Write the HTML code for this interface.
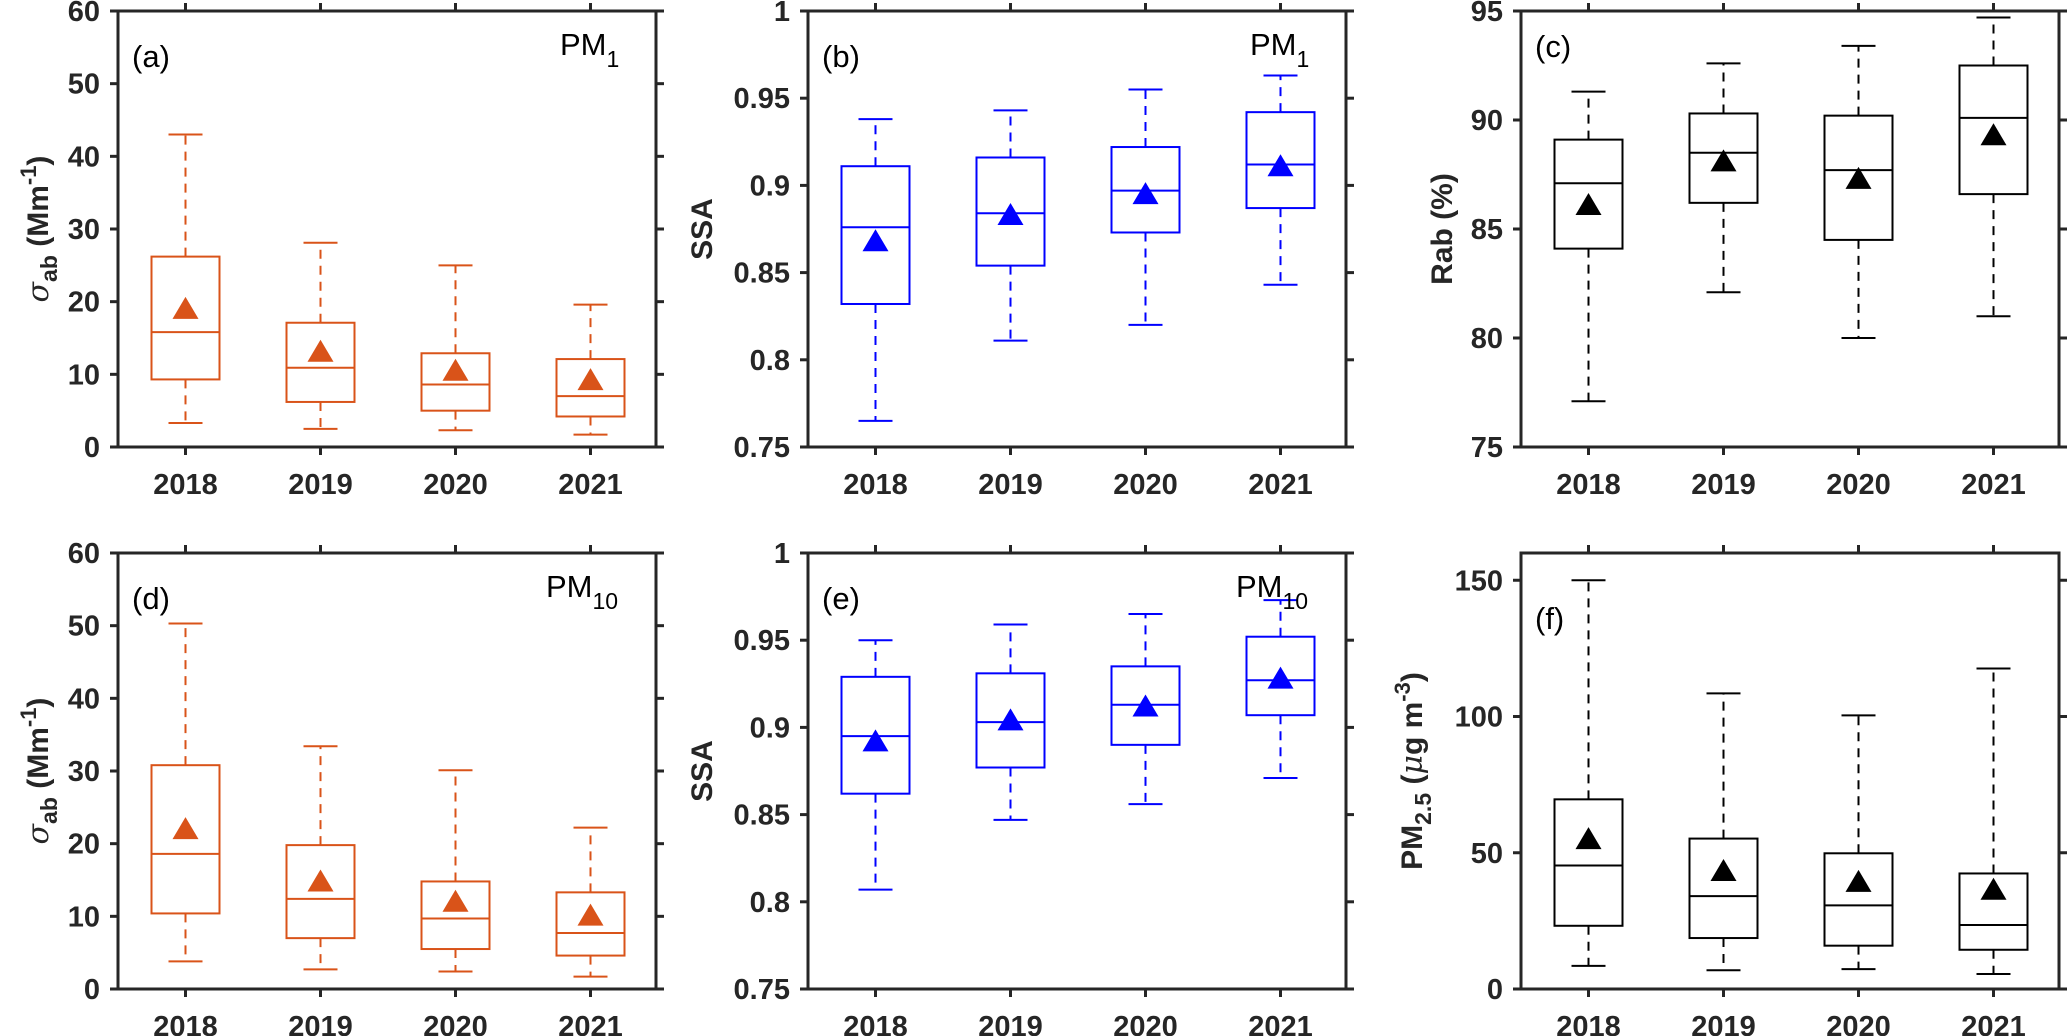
<!DOCTYPE html>
<html><head><meta charset="utf-8"><style>
html,body{margin:0;padding:0;background:#fff;}
svg{display:block;font-family:"Liberation Sans",Arial,sans-serif;}
</style></head><body>
<svg id="fig" width="2067" height="1036" viewBox="0 0 2067 1036" xmlns="http://www.w3.org/2000/svg"></svg>
<script>
const years = ["2018","2019","2020","2021"];
// each: [whiskerLow, q1, median, q3, whiskerHigh]
const aBoxes = [[3.3,9.3,15.8,26.2,43],[2.5,6.2,10.9,17.1,28.1],[2.3,5.0,8.6,12.9,25],[1.7,4.2,7.0,12.1,19.6]];
const aMeans = [19,13.1,10.5,9.2];
const bBoxes = [[0.765,0.832,0.876,0.911,0.938],[0.811,0.854,0.884,0.916,0.943],[0.82,0.873,0.897,0.922,0.955],[0.843,0.887,0.912,0.942,0.963]];
const bMeans = [0.868,0.883,0.895,0.911];
const cBoxes = [[77.1,84.1,87.1,89.1,91.3],[82.1,86.2,88.5,90.3,92.6],[80,84.5,87.7,90.2,93.4],[81,86.6,90.1,92.5,94.7]];
const cMeans = [86.1,88.1,87.3,89.3];
const dBoxes = [[3.8,10.4,18.6,30.8,50.3],[2.7,7,12.4,19.8,33.4],[2.4,5.5,9.7,14.8,30.1],[1.7,4.6,7.7,13.3,22.2]];
const dMeans = [22,14.8,12,10.1];
const eBoxes = [[0.807,0.862,0.895,0.929,0.950],[0.847,0.877,0.903,0.931,0.959],[0.856,0.890,0.913,0.935,0.965],[0.871,0.907,0.927,0.952,0.973]];
const eMeans = [0.892,0.904,0.912,0.928];
const fBoxes = [[8.5,23.2,45.3,69.6,150],[6.9,18.7,34.1,55.2,108.5],[7.3,15.9,30.7,49.8,100.4],[5.5,14.4,23.5,42.4,117.6]];
const fMeans = [55,43.3,39.3,36.4];
const sabTicks = [0,10,20,30,40,50,60];
const ssaTicks = [0.75,0.8,0.85,0.9,0.95,1];
const ssaTickLabels = ["0.75","0.8","0.85","0.9","0.95","1"];
const rabTicks = [75,80,85,90,95];
const pmTicks = [0,50,100,150];

const NS="http://www.w3.org/2000/svg";
const svg=document.getElementById('fig');
function mk(tag,attrs,parent){const e=document.createElementNS(NS,tag);for(const k in attrs)e.setAttribute(k,attrs[k]);(parent||svg).appendChild(e);return e;}

const AX="#262626";
function panel(o){
  const g=mk('g',{});
  
  
  const L=o.x,T=o.y,W=538,H=436,B=T+H,R=L+W;
  const ys=v=>B-(v-o.ymin)/(o.ymax-o.ymin)*H;
  const xs=i=>L+67.5+i*135;
  o.boxes.forEach((b,i)=>{
    const bg=mk('g',{},g);
    
    
    const cx=xs(i),hw=34,cw=17;
    mk('line',{x1:cx,x2:cx,y1:ys(b[3]),y2:ys(b[4]),stroke:o.color,'stroke-width':2,'stroke-dasharray':'9,7'},bg);
    mk('line',{x1:cx,x2:cx,y1:ys(b[1]),y2:ys(b[0]),stroke:o.color,'stroke-width':2,'stroke-dasharray':'9,7'},bg);
    mk('line',{x1:cx-cw,x2:cx+cw,y1:ys(b[4]),y2:ys(b[4]),stroke:o.color,'stroke-width':2},bg);
    mk('line',{x1:cx-cw,x2:cx+cw,y1:ys(b[0]),y2:ys(b[0]),stroke:o.color,'stroke-width':2},bg);
    mk('rect',{x:cx-hw,y:ys(b[3]),width:2*hw,height:ys(b[1])-ys(b[3]),fill:'none',stroke:o.color,'stroke-width':2},bg);
    mk('line',{x1:cx-hw,x2:cx+hw,y1:ys(b[2]),y2:ys(b[2]),stroke:o.color,'stroke-width':2},bg);
    const my=ys(o.means[i]);
    const t=mk('polygon',{points:`${cx-13},${my+10} ${cx+13},${my+10} ${cx},${my-12}`,fill:o.color},bg);
    
    
  });
  mk('rect',{x:L,y:T,width:W,height:H,fill:'none',stroke:AX,'stroke-width':3},g);
  o.ticks.forEach((v,k)=>{
    const y=ys(v);
    mk('line',{x1:L-8,x2:L,y1:y,y2:y,stroke:AX,'stroke-width':3},g);
    mk('line',{x1:R,x2:R+8,y1:y,y2:y,stroke:AX,'stroke-width':3},g);
    const tx=mk('text',{x:L-18,y:y+10,'text-anchor':'end','font-size':29,'font-weight':'bold',fill:AX},g);
    tx.textContent=o.tickLabels?o.tickLabels[k]:String(v);
    
    
  });
  years.forEach((yr,i)=>{
    const x=xs(i);
    mk('line',{x1:x,x2:x,y1:B,y2:B+8,stroke:AX,'stroke-width':3},g);
    mk('line',{x1:x,x2:x,y1:T-8,y2:T,stroke:AX,'stroke-width':3},g);
    const tx=mk('text',{x:x,y:B+47,'text-anchor':'middle','font-size':29,'font-weight':'bold',fill:AX},g);
    tx.textContent=yr;
    
    
  });
  const pl=mk('text',{x:L+14,y:T+o.letterDy,'font-size':31,fill:'#000'},g);
  pl.textContent=o.letter;
  
  
  if(o.pm){
    const pm=mk('text',{x:R-o.pmOff,y:T+44,'font-size':31,fill:'#000'},g);
    
    
    pm.appendChild(document.createTextNode('PM'));
    const s=mk('tspan',{dy:12,'font-size':23},pm);s.textContent=o.pm;
  }
  const cy=T+H/2;
  const yt=mk('text',{x:0,y:0,transform:`translate(${o.tx},${cy}) rotate(-90)`,'text-anchor':'middle','font-size':30,'font-weight':'bold',fill:AX},g);
  
  
  o.title(yt);
}
function sabTitle(t){
  const s=mk('tspan',{'font-style':'italic','font-weight':'normal','font-family':'"DejaVu Serif",serif'},t);s.textContent='σ';
  const a=mk('tspan',{dy:9,'font-size':23},t);a.textContent='ab';
  const b=mk('tspan',{dy:-9},t);b.textContent=' (Mm';
  const c=mk('tspan',{dy:-12,'font-size':22},t);c.textContent='-1';
  const d=mk('tspan',{dy:12},t);d.textContent=')';
}
function ssaTitle(t){t.textContent='SSA';}
function rabTitle(t){t.textContent='Rab (%)';}
function pmTitle(t){
  t.appendChild(document.createTextNode('PM'));
  const a=mk('tspan',{dy:9,'font-size':23},t);a.textContent='2.5';
  const b=mk('tspan',{dy:-9},t);b.textContent=' (';
  const m=mk('tspan',{'font-style':'italic','font-weight':'normal','font-family':'"DejaVu Serif",serif'},t);m.textContent='μ';
  const c=mk('tspan',{},t);c.textContent='g m';
  const d=mk('tspan',{dy:-12,'font-size':22},t);d.textContent='-3';
  const e=mk('tspan',{dy:12},t);e.textContent=')';
}
const ORANGE="#D95319",BLUE="#0000FF",BLACK="#000";
panel({name:'panel-a',x:118,y:11,ymin:0,ymax:60,ticks:sabTicks,boxes:aBoxes,means:aMeans,color:ORANGE,letter:'(a)',letterDy:56,pm:'1',pmOff:96,tx:48,title:sabTitle});
panel({name:'panel-b',x:808,y:11,ymin:0.75,ymax:1,ticks:ssaTicks,tickLabels:ssaTickLabels,boxes:bBoxes,means:bMeans,color:BLUE,letter:'(b)',letterDy:56,pm:'1',pmOff:96,tx:712,title:ssaTitle});
panel({name:'panel-c',x:1521,y:11,ymin:75,ymax:95,ticks:rabTicks,boxes:cBoxes,means:cMeans,color:BLACK,letter:'(c)',letterDy:46,tx:1452,title:rabTitle});
panel({name:'panel-d',x:118,y:553,ymin:0,ymax:60,ticks:sabTicks,boxes:dBoxes,means:dMeans,color:ORANGE,letter:'(d)',letterDy:56,pm:'10',pmOff:110,tx:48,title:sabTitle});
panel({name:'panel-e',x:808,y:553,ymin:0.75,ymax:1,ticks:ssaTicks,tickLabels:ssaTickLabels,boxes:eBoxes,means:eMeans,color:BLUE,letter:'(e)',letterDy:56,pm:'10',pmOff:110,tx:712,title:ssaTitle});
panel({name:'panel-f',x:1521,y:553,ymin:0,ymax:160,ticks:pmTicks,boxes:fBoxes,means:fMeans,color:BLACK,letter:'(f)',letterDy:76,tx:1422,title:pmTitle});
</script>
</body></html>
